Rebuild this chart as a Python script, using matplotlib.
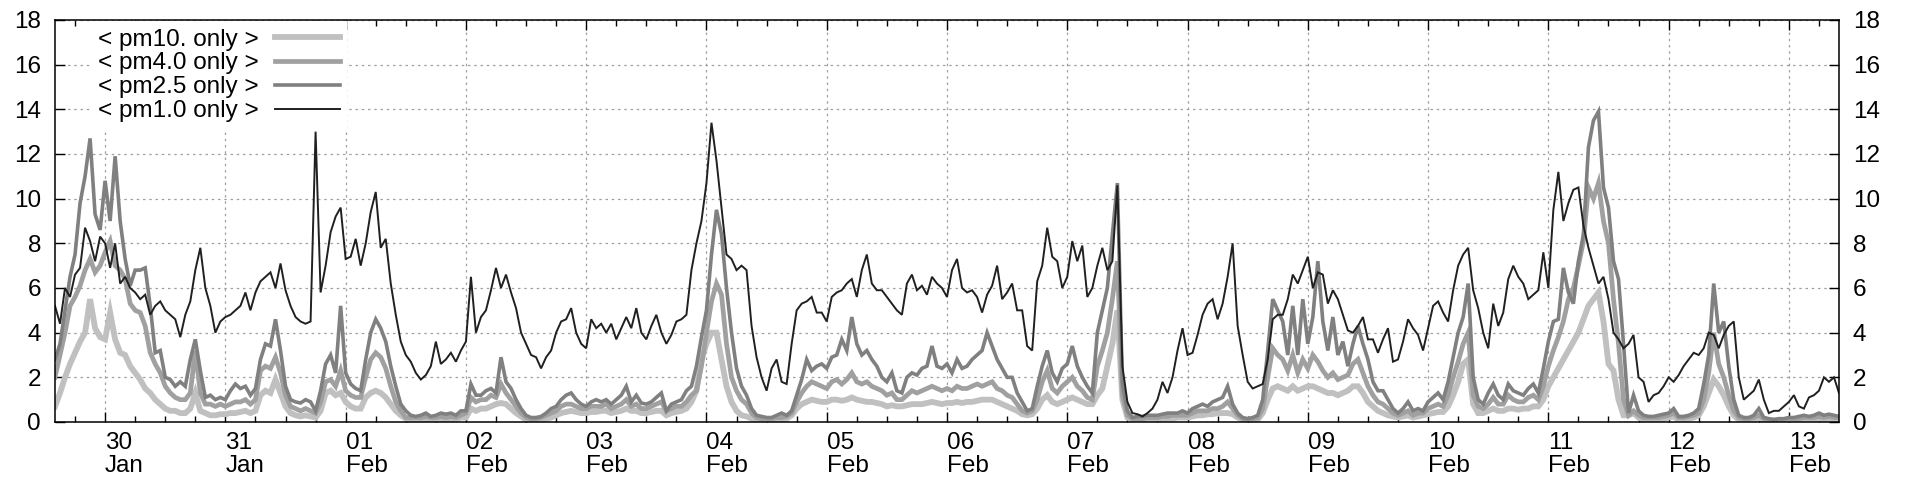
import numpy as np
import pandas as pd
import matplotlib
matplotlib.use("Agg")
import matplotlib.pyplot as plt
import matplotlib.dates as mdates

plt.rcParams["font.family"] = ["Liberation Sans", "DejaVu Sans"]

# hourly samples, 29 Jan 14:00 .. 13 Feb 10:00
START = "2021-01-29 14:00"

LABELS = ["< pm10. only >", "< pm4.0 only >", "< pm2.5 only >", "< pm1.0 only >"]
COLORS = ["#c0c0c0", "#a0a0a0", "#808080", "#202020"]

pm1 = [
    5.2, 4.4, 6.0, 5.6, 6.6, 6.9, 8.7, 8.1, 7.2, 8.3,
    8.0, 6.9, 8.0, 6.2, 6.5, 6.0, 5.8, 5.5, 5.7, 4.8, 5.2, 5.4, 5.0, 4.8, 4.6, 3.8, 4.8, 5.4, 6.8, 7.8, 6.0, 5.2, 4.0, 4.5,
    4.7, 4.8, 5.0, 5.2, 5.8, 5.0, 5.8, 6.3, 6.5, 6.7, 6.0, 7.1, 5.9, 5.2, 4.7, 4.5, 4.4, 4.5, 13.0, 5.8, 7.0, 8.5, 9.2, 9.6,
    7.3, 7.4, 8.2, 7.0, 8.0, 9.4, 10.3, 7.8, 8.2, 6.2, 4.8, 3.6, 3.0, 2.7, 2.2, 1.9, 2.1, 2.5, 3.6, 2.6, 2.8, 3.1, 2.7, 3.2,
    3.6, 6.5, 4.0, 4.7, 5.0, 5.9, 6.9, 6.0, 6.6, 5.8, 5.1, 4.0, 3.5, 3.0, 2.9, 2.4, 2.9, 3.2, 4.0, 4.5, 4.6, 5.1, 4.0, 3.5,
    3.3, 4.6, 4.2, 4.4, 4.0, 4.4, 3.7, 4.2, 4.7, 4.2, 5.1, 4.0, 3.7, 4.3, 4.8, 4.0, 3.5, 3.9, 4.5, 4.6, 4.8, 6.8, 8.0, 9.0,
    10.7, 13.4, 11.7, 9.6, 7.5, 7.3, 6.8, 7.0, 6.8, 4.3, 2.9, 2.0, 1.4, 2.4, 2.8, 1.8, 1.7, 3.5, 5.0, 5.3, 5.4, 5.6, 4.9, 4.9,
    4.5, 5.6, 5.8, 5.9, 6.2, 6.4, 5.6, 6.8, 7.5, 6.2, 5.9, 5.9, 5.6, 5.3, 5.0, 4.8, 6.2, 6.6, 5.9, 6.1, 5.7, 6.5, 6.2, 6.0,
    5.6, 6.8, 7.3, 6.0, 5.8, 5.9, 5.6, 4.9, 5.7, 6.1, 7.0, 5.5, 5.8, 6.2, 5.0, 5.0, 3.4, 3.2, 6.3, 7.0, 8.7, 7.4, 7.2, 6.0,
    6.5, 8.1, 7.2, 7.9, 5.6, 6.0, 7.0, 7.8, 6.8, 7.2, 10.6, 2.5, 0.9, 0.4, 0.35, 0.25, 0.4, 0.6, 1.0, 1.8, 1.3, 2.0, 3.2, 4.2,
    3.0, 3.1, 3.9, 4.8, 5.3, 5.5, 4.6, 5.3, 6.5, 8.0, 4.3, 3.0, 1.8, 1.5, 1.6, 1.7, 2.8, 4.6, 4.8, 4.8, 5.5, 6.6, 6.2, 6.8,
    7.4, 6.0, 6.7, 6.6, 5.3, 5.9, 5.5, 4.8, 4.1, 4.0, 4.3, 4.7, 3.7, 3.7, 3.1, 3.7, 4.2, 2.7, 2.8, 3.6, 4.6, 4.2, 3.9, 3.2,
    4.2, 5.2, 5.4, 4.9, 4.5, 5.9, 7.0, 7.5, 7.8, 5.9, 5.1, 4.0, 3.3, 5.3, 4.3, 4.9, 6.4, 7.0, 6.5, 6.2, 5.5, 5.7, 5.9, 7.6,
    6.0, 9.5, 11.2, 9.0, 9.8, 10.4, 10.5, 8.8, 7.8, 7.0, 6.2, 6.5, 5.5, 4.0, 3.7, 3.3, 3.5, 3.9, 2.0, 1.8, 0.9, 1.2, 1.3, 1.6,
    2.0, 1.8, 2.1, 2.5, 2.8, 3.1, 3.0, 3.3, 4.0, 3.9, 3.3, 3.9, 4.3, 4.5, 2.0, 1.0, 1.2, 1.4, 1.9, 1.0, 0.4, 0.5, 0.5, 0.7,
    0.9, 1.2, 0.7, 0.6, 1.1, 1.2, 1.4, 2.0, 1.8, 2.0, 1.3,
]

pm25 = [
    2.8, 3.5, 5.0, 6.5, 7.5, 9.8, 11.0, 12.7, 9.3, 8.6,
    10.8, 9.0, 11.9, 9.0, 7.3, 6.1, 6.8, 6.8, 6.9, 5.2, 3.1, 3.2, 2.0, 1.9, 1.6, 1.8, 1.6, 2.8, 3.7, 2.3, 1.1, 1.2, 1.0, 1.1,
    1.0, 1.4, 1.7, 1.5, 1.6, 1.2, 1.5, 2.8, 3.5, 3.4, 4.6, 3.2, 1.6, 1.0, 0.9, 0.85, 1.0, 0.9, 0.5, 1.4, 2.6, 3.0, 2.2, 5.2,
    2.2, 1.7, 1.5, 1.4, 2.8, 4.0, 4.6, 4.2, 3.6, 2.5, 1.6, 0.8, 0.5, 0.3, 0.25, 0.3, 0.4, 0.25, 0.3, 0.4, 0.35, 0.4, 0.3, 0.5,
    0.5, 1.7, 1.2, 1.2, 1.4, 1.5, 1.3, 2.9, 1.8, 1.5, 1.0, 0.6, 0.3, 0.2, 0.2, 0.25, 0.4, 0.6, 0.7, 1.0, 1.2, 1.3, 1.0, 0.8,
    0.7, 0.9, 1.0, 0.9, 1.0, 0.8, 1.0, 1.2, 1.6, 0.9, 1.2, 0.85, 0.8, 0.9, 1.1, 1.3, 0.5, 0.8, 0.9, 1.0, 1.4, 1.6, 2.5, 3.8,
    5.0, 7.5, 9.5, 8.4, 6.0, 4.0, 2.4, 1.6, 1.2, 0.6, 0.3, 0.25, 0.2, 0.2, 0.3, 0.4, 0.3, 0.5, 1.2, 1.9, 2.8, 2.3, 2.5, 2.6,
    2.4, 2.9, 3.0, 3.7, 3.2, 4.7, 3.5, 3.0, 3.2, 2.8, 2.5, 2.0, 1.8, 2.2, 1.4, 1.3, 2.0, 2.2, 2.1, 2.4, 2.5, 3.4, 2.5, 2.4,
    2.6, 2.2, 2.8, 2.4, 2.5, 2.8, 3.0, 3.2, 4.0, 3.4, 2.8, 2.4, 2.0, 2.0, 1.3, 0.9, 0.5, 0.6, 1.6, 2.5, 3.2, 2.2, 1.8, 2.4,
    2.6, 3.4, 2.5, 2.0, 1.6, 1.3, 4.0, 5.0, 6.0, 8.4, 10.7, 1.7, 0.5, 0.2, 0.25, 0.25, 0.3, 0.3, 0.3, 0.35, 0.4, 0.4, 0.4, 0.5,
    0.4, 0.6, 0.7, 0.8, 0.7, 0.9, 1.0, 1.1, 1.6, 0.8, 0.4, 0.2, 0.15, 0.2, 0.3, 1.0, 3.2, 5.5, 5.0, 4.5, 3.0, 5.2, 3.0, 5.5,
    3.5, 4.7, 7.2, 4.5, 3.2, 4.7, 3.0, 3.6, 2.5, 3.5, 4.3, 3.5, 2.8, 1.8, 1.4, 1.4, 1.0, 0.6, 0.4, 0.6, 0.9, 0.5, 0.6, 0.5,
    0.9, 1.1, 1.3, 1.0, 1.8, 2.9, 4.0, 4.7, 6.2, 2.0, 1.0, 0.8, 1.3, 1.7, 1.2, 1.0, 1.7, 1.4, 1.3, 1.2, 1.5, 1.7, 1.3, 2.4,
    3.6, 4.5, 4.6, 6.9, 5.8, 5.3, 7.2, 8.4, 12.3, 13.5, 13.9, 10.5, 9.6, 7.2, 6.4, 3.5, 0.4, 1.2, 0.5, 0.3, 0.25, 0.25, 0.3, 0.35,
    0.4, 0.6, 0.25, 0.25, 0.3, 0.4, 0.6, 1.7, 3.0, 6.2, 4.0, 4.5, 2.5, 1.0, 0.3, 0.2, 0.2, 0.3, 0.6, 0.2, 0.15, 0.1, 0.15, 0.15,
    0.2, 0.2, 0.25, 0.3, 0.25, 0.3, 0.4, 0.3, 0.35, 0.3, 0.25,
]

pm4 = [
    2.0, 3.0, 4.0, 5.2, 5.6, 6.1, 6.8, 7.3, 6.7, 7.0,
    7.6, 8.1, 7.0, 6.8, 6.4, 5.3, 5.0, 4.9, 4.3, 3.1, 2.6, 2.2, 1.6, 1.3, 1.1, 1.0, 1.0, 1.3, 3.2, 1.3, 0.8, 0.8, 0.7, 0.8,
    0.7, 0.8, 0.9, 0.9, 1.0, 0.8, 1.0, 2.3, 2.5, 2.4, 2.9, 2.2, 1.2, 0.7, 0.6, 0.5, 0.6, 0.5, 0.4, 0.9, 1.8, 1.9, 1.6, 2.3,
    1.4, 1.2, 1.1, 1.1, 2.0, 2.8, 3.1, 2.9, 2.4, 1.6, 0.9, 0.5, 0.2, 0.2, 0.2, 0.2, 0.25, 0.2, 0.2, 0.25, 0.2, 0.25, 0.2, 0.3,
    0.4, 1.1, 0.9, 1.0, 1.0, 1.2, 1.1, 1.7, 1.3, 1.0, 0.7, 0.4, 0.2, 0.15, 0.15, 0.2, 0.3, 0.4, 0.5, 0.7, 0.8, 0.8, 0.7, 0.6,
    0.6, 0.7, 0.7, 0.7, 0.8, 0.6, 0.7, 0.8, 1.0, 0.7, 0.8, 0.6, 0.6, 0.7, 0.8, 0.9, 0.5, 0.6, 0.7, 0.7, 0.9, 1.2, 1.4, 2.5,
    4.0, 5.4, 6.2, 5.7, 3.5, 2.0, 1.4, 1.0, 0.8, 0.4, 0.2, 0.15, 0.15, 0.15, 0.2, 0.2, 0.25, 0.4, 0.9, 1.3, 1.6, 1.8, 1.7, 1.6,
    1.5, 1.8, 1.9, 1.7, 1.9, 2.2, 1.8, 1.7, 1.8, 1.6, 1.5, 1.4, 1.2, 1.3, 1.0, 1.0, 1.2, 1.4, 1.3, 1.4, 1.5, 1.6, 1.5, 1.4,
    1.5, 1.4, 1.6, 1.5, 1.5, 1.6, 1.7, 1.6, 1.7, 1.8, 1.5, 1.4, 1.2, 1.1, 0.8, 0.5, 0.4, 0.5, 1.0, 1.8, 2.3, 1.5, 1.3, 1.6,
    1.8, 2.0, 1.6, 1.4, 1.1, 1.0, 2.5, 3.2, 4.0, 5.5, 7.2, 1.2, 0.3, 0.15, 0.15, 0.15, 0.2, 0.2, 0.2, 0.25, 0.25, 0.3, 0.3, 0.3,
    0.3, 0.4, 0.5, 0.5, 0.5, 0.6, 0.6, 0.7, 0.9, 0.6, 0.3, 0.15, 0.1, 0.15, 0.2, 0.6, 2.0, 3.3, 3.0, 2.8, 2.3, 3.0, 2.2, 2.8,
    2.4, 3.0, 2.7, 2.3, 2.0, 2.2, 1.9, 2.0, 2.1, 2.6, 2.8, 2.2, 1.6, 1.2, 0.9, 0.8, 0.6, 0.4, 0.3, 0.4, 0.5, 0.3, 0.4, 0.4,
    0.6, 0.7, 0.8, 0.7, 1.2, 2.0, 2.7, 3.5, 4.0, 1.2, 0.7, 0.6, 0.8, 1.1, 0.8, 0.8, 1.2, 1.0, 0.9, 0.9, 1.1, 1.2, 1.0, 1.6,
    2.5, 3.2, 3.8, 4.5, 5.5, 6.0, 7.0, 8.1, 10.5, 10.0, 10.7, 9.0, 8.0, 5.5, 3.5, 1.0, 0.3, 0.5, 0.3, 0.2, 0.2, 0.2, 0.2, 0.25,
    0.3, 0.4, 0.2, 0.2, 0.25, 0.3, 0.4, 1.0, 2.2, 4.0, 2.6, 2.0, 1.2, 0.5, 0.2, 0.15, 0.15, 0.2, 0.3, 0.15, 0.1, 0.1, 0.1, 0.1,
    0.15, 0.15, 0.15, 0.2, 0.2, 0.2, 0.25, 0.2, 0.25, 0.2, 0.2,
]

pm10 = [
    0.7, 1.3, 2.0, 2.6, 3.1, 3.6, 4.0, 5.5, 4.2, 3.8,
    3.7, 4.9, 3.7, 3.1, 3.0, 2.5, 2.2, 1.9, 1.5, 1.3, 1.0, 0.8, 0.6, 0.5, 0.5, 0.4, 0.4, 0.6, 1.3, 0.5, 0.4, 0.3, 0.3, 0.35,
    0.35, 0.4, 0.4, 0.45, 0.5, 0.4, 0.5, 1.2, 1.4, 1.3, 1.9, 1.3, 0.7, 0.4, 0.3, 0.25, 0.3, 0.25, 0.2, 0.5, 1.3, 1.4, 1.2, 1.3,
    0.9, 0.7, 0.6, 0.6, 1.1, 1.3, 1.4, 1.3, 1.1, 0.8, 0.5, 0.3, 0.15, 0.1, 0.1, 0.1, 0.15, 0.1, 0.1, 0.15, 0.1, 0.15, 0.1, 0.2,
    0.2, 0.6, 0.5, 0.6, 0.6, 0.7, 0.8, 0.85, 0.8, 0.6, 0.4, 0.25, 0.1, 0.1, 0.1, 0.1, 0.15, 0.2, 0.3, 0.4, 0.45, 0.5, 0.45, 0.4,
    0.4, 0.45, 0.45, 0.5, 0.5, 0.4, 0.45, 0.5, 0.6, 0.5, 0.5, 0.4, 0.4, 0.45, 0.5, 0.5, 0.3, 0.4, 0.45, 0.5, 0.6, 0.9, 1.4, 2.8,
    3.5, 4.0, 4.0, 2.8, 1.6, 0.9, 0.5, 0.3, 0.25, 0.15, 0.1, 0.1, 0.1, 0.1, 0.1, 0.1, 0.15, 0.3, 0.6, 0.8, 0.9, 1.0, 0.95, 0.9,
    0.9, 1.0, 1.0, 0.95, 1.0, 1.1, 1.0, 0.95, 0.9, 0.9, 0.85, 0.8, 0.7, 0.75, 0.7, 0.7, 0.75, 0.8, 0.8, 0.8, 0.85, 0.9, 0.85, 0.8,
    0.85, 0.85, 0.9, 0.85, 0.9, 0.9, 0.95, 1.0, 1.0, 1.0, 0.9, 0.8, 0.7, 0.6, 0.5, 0.35, 0.3, 0.35, 0.6, 1.0, 1.2, 0.9, 0.8, 0.9,
    1.0, 1.1, 1.0, 0.9, 0.8, 0.8, 1.2, 1.5, 2.5, 3.5, 5.0, 1.0, 0.2, 0.1, 0.1, 0.1, 0.1, 0.1, 0.1, 0.15, 0.15, 0.15, 0.2, 0.2,
    0.2, 0.25, 0.3, 0.3, 0.35, 0.35, 0.4, 0.4, 0.4, 0.35, 0.2, 0.1, 0.05, 0.1, 0.1, 0.4, 1.0, 1.5, 1.6, 1.5, 1.4, 1.6, 1.4, 1.5,
    1.6, 1.6, 1.5, 1.4, 1.3, 1.3, 1.2, 1.3, 1.4, 1.6, 1.6, 1.3, 0.9, 0.7, 0.5, 0.4, 0.3, 0.25, 0.2, 0.25, 0.3, 0.2, 0.25, 0.3,
    0.35, 0.4, 0.45, 0.45, 0.7, 1.2, 1.8, 2.6, 2.8, 0.8, 0.4, 0.4, 0.5, 0.6, 0.5, 0.5, 0.6, 0.6, 0.55, 0.6, 0.6, 0.7, 0.7, 1.0,
    1.6, 2.0, 2.4, 2.8, 3.2, 3.6, 4.0, 4.6, 5.2, 5.5, 5.8, 4.5, 2.6, 2.3, 1.0, 0.3, 0.3, 0.4, 0.2, 0.1, 0.1, 0.1, 0.1, 0.15,
    0.2, 0.25, 0.1, 0.1, 0.15, 0.2, 0.3, 0.7, 1.3, 1.9, 1.6, 1.2, 0.7, 0.3, 0.1, 0.05, 0.05, 0.1, 0.2, 0.05, 0.05, 0.05, 0.05, 0.05,
    0.05, 0.05, 0.1, 0.1, 0.1, 0.1, 0.1, 0.1, 0.15, 0.1, 0.1,
]


def main():
    times = pd.date_range(START, periods=len(pm1), freq="h")

    fig = plt.figure(figsize=(19.2, 4.8), dpi=100)
    ax = fig.add_axes([55 / 1920, 58 / 480, 1784 / 1920, 402 / 480])

    series = [pm10, pm4, pm25, pm1]
    widths = [4.2, 3.4, 2.6, 1.4]
    for vals, lab, col, lw in zip(series, LABELS, COLORS, widths):
        ax.plot(times, vals, color=col, lw=lw, label=lab, solid_joinstyle="miter")

    ax.set_xlim(times[0], times[-1])
    ax.set_ylim(0, 18)

    days = pd.date_range("2021-01-30", "2021-02-13", freq="D")
    ax.set_xticks(days, [d.strftime("%d\n%b") for d in days], ha="left")
    ax.xaxis.set_minor_locator(mdates.HourLocator(byhour=[6, 12, 18]))
    ax.set_yticks(np.arange(0, 19, 2))

    ax.tick_params(axis="both", which="both", direction="in", top=True, right=True,
                   labelright=True, labelsize=17.5, width=1)
    ax.tick_params(axis="x", which="major", length=7, pad=7)
    ax.tick_params(axis="x", which="minor", length=4)
    ax.tick_params(axis="y", which="major", length=7, pad=10)
    for lbl in ax.get_xticklabels():
        lbl.set_linespacing(1.05)

    ax.grid(True, which="major", color="#a0a0a0", lw=0.9, ls=(0, (2, 3)))
    ax.set_axisbelow(True)
    for sp in ax.spines.values():
        sp.set_linewidth(1.1)

    leg = ax.legend(loc="upper left", bbox_to_anchor=(0.02, 0.997), markerfirst=False,
                    fontsize=17.5, handlelength=2.7, handletextpad=0.65, labelspacing=0.08,
                    borderpad=0.3, borderaxespad=0, fancybox=False, framealpha=1,
                    edgecolor="none", facecolor="white")
    for t in leg.get_texts():
        t.set_ha("right")

    fig.savefig("out.png", dpi=100)
    plt.close(fig)


if __name__ == "__main__":
    main()
